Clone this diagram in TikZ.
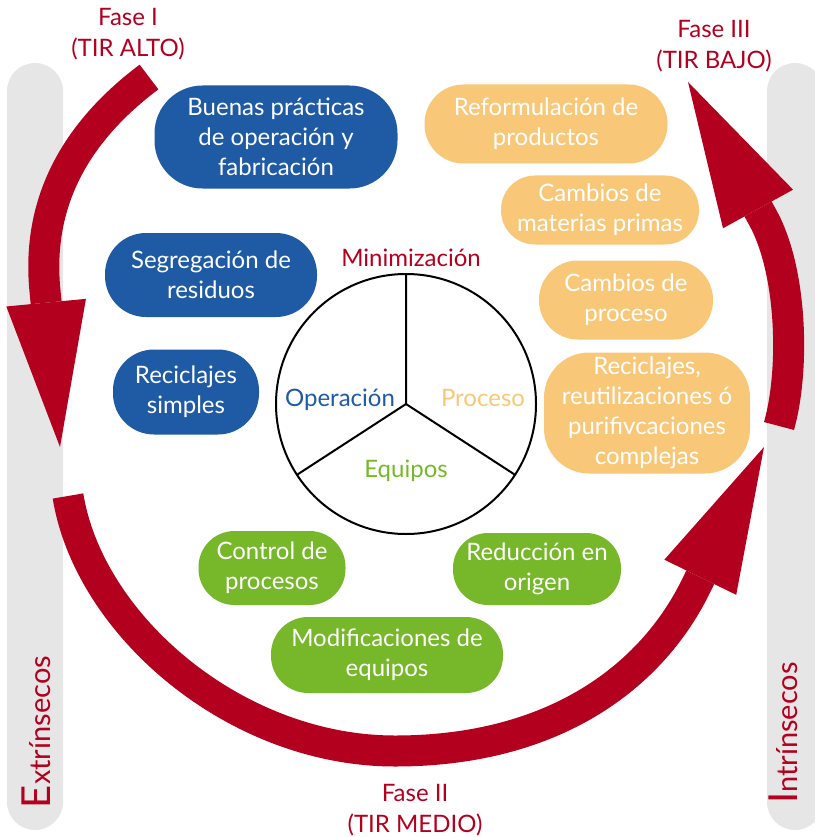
\documentclass[tikz,border=0pt]{standalone}
\usepackage{fontspec}
\setmainfont{Lato}
\usetikzlibrary{arrows.meta}

\definecolor{tirred}{HTML}{B3001F}
\definecolor{opblue}{HTML}{1F5AA5}
\definecolor{procorange}{HTML}{F8C878}
\definecolor{eqgreen}{HTML}{76B82A}
\definecolor{bargray}{HTML}{E6E6E6}

\tikzset{
  box/.style={rounded corners=34pt, text=white, align=center, inner sep=0pt,
    font=\fontsize{24}{30}\selectfont},
  opbox/.style={box, fill=opblue},
  prbox/.style={box, fill=procorange},
  eqbox/.style={box, fill=eqgreen},
  fase/.style={text=tirred, align=center, font=\fontsize{24}{31}\selectfont},
  sector/.style={anchor=base, font=\fontsize{24}{30}\selectfont},
  bigarrow/.style={tirred, line width=31pt,
    -{Triangle[length=145pt,width=80pt,line width=0pt]}}
}

\begin{document}
\begin{tikzpicture}[x=1pt,y=-1pt]
  \useasboundingbox (0,0) rectangle (814,837);

  % side bars
  \fill[bargray, rounded corners=28pt] (7,63) rectangle (63,830);
  \fill[bargray, rounded corners=28pt] (767,63) rectangle (823,830);
  \node[rotate=90, anchor=base, text=tirred, font=\fontsize{29}{29}\selectfont] (extr) at (50,732)
    {{\fontsize{40}{40}\selectfont E}xtrínsecos};
  \node[rotate=90, anchor=base, text=tirred, font=\fontsize{29}{29}\selectfont] (intr) at (797,733)
    {{\fontsize{40}{40}\selectfont I}ntrínsecos};

  % phases
  \node[fase] (fase1) at (128,34) {Fase I\\(TIR ALTO)};
  \node[fase] (fase2) at (415,810) {Fase II\\(TIR MEDIO)};
  \node[fase] (fase3) at (714,46) {Fase III\\(TIR BAJO)};

  % big arrows
  \coordinate (a1) at (149,77);
  \coordinate (a1tip) at (60,447);
  \coordinate (a2) at (68,496);
  \coordinate (a2tip) at (764,447);
  \coordinate (a3) at (779,426);
  \coordinate (a3tip) at (688,82);
  \draw[bigarrow] (a1) .. controls (77,131) and (36,201) .. (45,291) -- (a1tip);
  \draw[bigarrow] (a2) .. controls (89,625) and (235,751) .. (395,751)
    .. controls (555,751) and (652,676) .. (696,586) -- (a2tip);
  \draw[bigarrow] (a3) .. controls (795,369) and (792,271) .. (763,218) -- (a3tip);

  % minimizacion circle
  \coordinate (c) at (406,404);
  \draw[line width=2pt] (c) circle[radius=130pt];
  \draw[line width=2pt] (c) -- ++(90:130pt) (c) -- ++(-33:130pt) (c) -- ++(213:130pt);
  \node[sector, text=tirred] (mini) at (411,266) {Minimización};
  \node[sector, text=opblue] (oper) at (340,406) {Operación};
  \node[sector, text=procorange] (proc) at (483,406) {Proceso};
  \node[sector, text=eqgreen] (equi) at (406,477) {Equipos};

  % operacion
  \node[opbox, rounded corners=48pt, minimum width=243pt, minimum height=103pt] (buenas) at (276,137) {Buenas prácticas\\de operación y\\fabricación};
  \node[opbox, rounded corners=41pt, minimum width=212pt, minimum height=84pt] (segreg) at (211,275) {Segregación de\\residuos};
  \node[opbox, rounded corners=41pt, minimum width=146pt, minimum height=85pt] (recsimp) at (186,392) {Reciclajes\\simples};

  % proceso
  \node[prbox, rounded corners=39pt, minimum width=243pt, minimum height=79pt] (reform) at (546,124) {Reformulación de\\productos};
  \node[prbox, minimum width=198pt, minimum height=69pt] (cambmat) at (600,210) {Cambios de\\materias primas};
  \node[prbox, rounded corners=39pt, minimum width=174pt, minimum height=79pt] (cambproc) at (626,300) {Cambios de\\proceso};
  \node[prbox, rounded corners=45pt, minimum width=206pt, minimum height=121pt] (reccomp) at (647,413) {Reciclajes,\\reutilizaciones ó\\purifivcaciones\\complejas};

  % equipos
  \node[eqbox, rounded corners=36pt, minimum width=147pt, minimum height=74pt] (control) at (272,568) {Control de\\procesos};
  \node[eqbox, rounded corners=35pt, minimum width=168pt, minimum height=72pt] (reduc) at (537,569) {Reducción en\\origen};
  \node[eqbox, rounded corners=37pt, minimum width=232pt, minimum height=76pt] (modif) at (387,655) {Modificaciones de\\equipos};
\end{tikzpicture}
\end{document}
